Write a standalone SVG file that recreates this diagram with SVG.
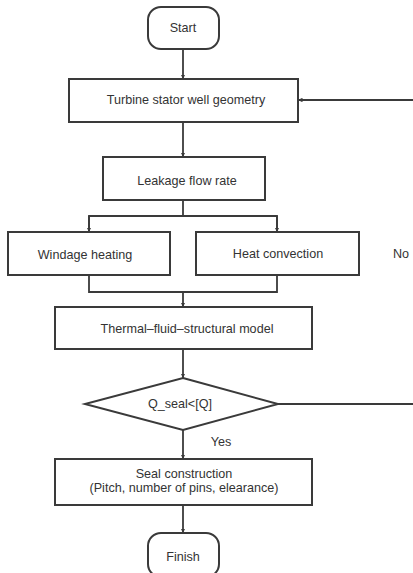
<svg xmlns="http://www.w3.org/2000/svg" width="413" height="573" viewBox="0 0 413 573">
<defs>
<style>
.box{fill:#fff;stroke:#3a3a3a;stroke-width:2}
.ln{fill:none;stroke:#3a3a3a;stroke-width:1.8}
.t{font-family:"Liberation Sans",Arial,sans-serif;font-size:12.6px;fill:#333;text-anchor:middle;dominant-baseline:central}
</style>
<marker id="ah" viewBox="0 0 6 6" refX="6" refY="3" markerWidth="2.5" markerHeight="2.5" orient="auto" markerUnits="strokeWidth">
<path d="M0,0 L6,3 L0,6 z" fill="#3a3a3a"/>
</marker>
</defs>
<rect width="413" height="573" fill="#fff"/>
<g id="connectors">
<path class="ln" d="M183,49 V79" marker-end="url(#ah)"/>
<path class="ln" d="M183,122 V157" marker-end="url(#ah)"/>
<path class="ln" d="M183,200 V216"/>
<path class="ln" d="M89,232 V216 H277 V232"/>
<path class="ln" d="M89,216 V232" marker-end="url(#ah)"/>
<path class="ln" d="M277,216 V232" marker-end="url(#ah)"/>
<path class="ln" d="M89,275 V292 H277 V275"/>
<path class="ln" d="M183,292 V307" marker-end="url(#ah)"/>
<path class="ln" d="M183,349 V378" marker-end="url(#ah)"/>
<path class="ln" d="M278,404 H413"/>
<path class="ln" d="M413,100 H298" marker-end="url(#ah)"/>
<path class="ln" d="M183,430 V459" marker-end="url(#ah)"/>
<path class="ln" d="M183,505 V533" marker-end="url(#ah)"/>
<text class="t" x="401" y="254">No</text>
<text class="t" x="221" y="442">Yes</text>
</g>
<g id="start">
<rect class="box" x="148" y="7" width="71" height="42" rx="13"/>
<text class="t" x="183" y="28">Start</text>
</g>
<g id="geometry">
<rect class="box" x="69" y="79" width="229" height="43"/>
<text class="t" x="186" y="100">Turbine stator well geometry</text>
</g>
<g id="leakage">
<rect class="box" x="103" y="157" width="162" height="43"/>
<text class="t" x="187" y="181">Leakage flow rate</text>
</g>
<g id="windage">
<rect class="box" x="8" y="232" width="162" height="43"/>
<text class="t" x="85" y="255">Windage heating</text>
</g>
<g id="convection">
<rect class="box" x="196" y="232" width="163" height="43"/>
<text class="t" x="278" y="254">Heat convection</text>
</g>
<g id="model">
<rect class="box" x="55" y="307" width="257" height="42"/>
<text class="t" x="187" y="329">Thermal–fluid–structural model</text>
</g>
<g id="decision">
<polygon class="box" points="183,378 278,404 183,430 85,404"/>
<text class="t" x="180" y="404">Q_seal&lt;[Q]</text>
</g>
<g id="seal">
<rect class="box" x="55" y="459" width="257" height="46"/>
<text class="t" x="184" y="474">Seal construction</text>
<text class="t" x="184" y="488">(Pitch, number of pins, elearance)</text>
</g>
<g id="finish">
<rect class="box" x="148" y="533" width="71" height="44" rx="13"/>
<text class="t" x="183" y="557">Finish</text>
</g>
</svg>
